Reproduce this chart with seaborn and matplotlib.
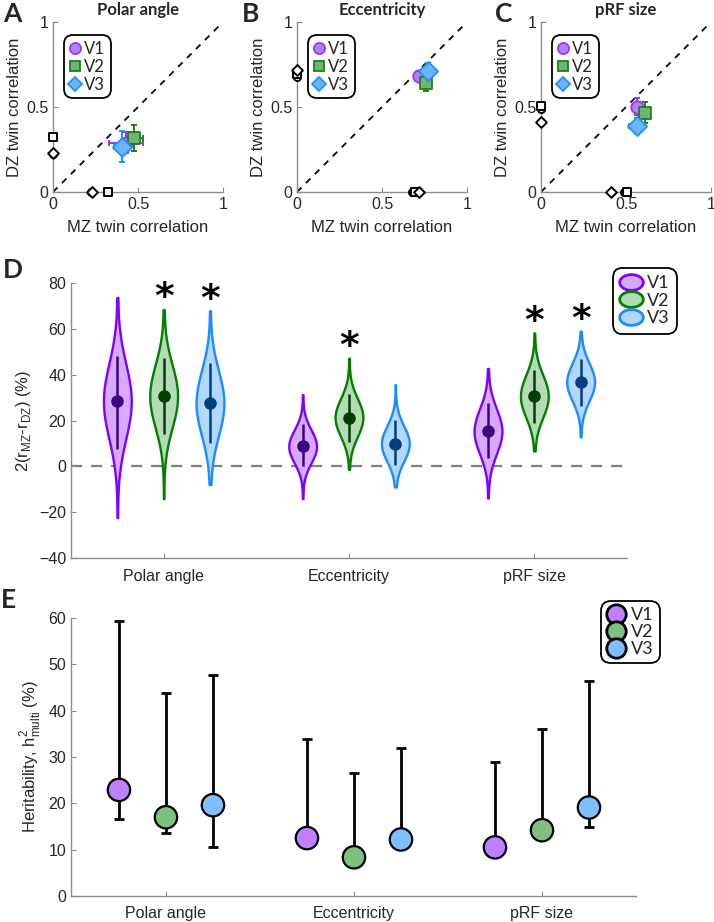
import numpy as np
import pandas as pd
import seaborn as sns
import matplotlib.pyplot as plt
from matplotlib.lines import Line2D
from matplotlib.path import Path
from statistics import NormalDist

# ---------------- data ----------------
areas = ["V1", "V2", "V3"]
maps = ["Polar angle", "Eccentricity", "pRF size"]

# A-C: twin correlations, one row per map, columns V1, V2, V3
mz_r = [[0.43, 0.478, 0.408], [0.72, 0.757, 0.769], [0.563, 0.612, 0.563]]
dz_r = [[0.29, 0.319, 0.266], [0.682, 0.643, 0.714], [0.502, 0.467, 0.388]]
mz_err = [[0.10, 0.05, 0.047], [0.02, 0.02, 0.02], [0.03, 0.03, 0.045]]
dz_err = [[0.06, 0.075, 0.09], [0.02, 0.05, 0.045], [0.05, 0.06, 0.045]]
# open markers drawn on both axes
marg_r = [[0.225, 0.322, 0.232], [0.675, 0.694, 0.718], [0.49, 0.505, 0.41]]

# D: 2(rMZ - rDZ) in %, bootstrap summaries
d_center = [[28.4, 30.6, 27.6], [8.7, 21.3, 9.9], [15.3, 30.6, 36.8]]
d_spread = [[15.5, 13.0, 13.5], [6.8, 7.8, 7.3], [9.3, 8.8, 7.8]]
d_low = [[7.4, 14.0, 10.3], [0.0, 10.6, 0.7], [3.6, 18.9, 26.2]]
d_high = [[48.2, 47.3, 45.3], [18.3, 31.7, 20.1], [27.6, 41.9, 47.0]]
d_min = [[-22.4, -14.1, -8.0], [-14.1, -1.3, -9.0], [-13.8, 6.7, 12.8]]
d_max = [[73.7, 68.4, 67.9], [31.3, 47.2, 35.7], [42.7, 58.2, 59.0]]
d_signif = [[False, True, True], [False, True, False], [False, True, True]]

# E: heritability h2 multi (%), estimate and interval
h_est = [[22.9, 17.0, 19.6], [12.5, 8.35, 12.2], [10.5, 14.2, 19.1]]
h_low = [[16.6, 13.7, 10.6], [11.5, 7.5, 11.0], [9.5, 13.0, 14.9]]
h_high = [[59.4, 43.9, 47.8], [33.9, 26.5, 31.9], [29.0, 36.0, 46.4]]

# ---------------- style ----------------
sc_face = ["#B77FFF", "#6FB56F", "#6CB4FF"]
sc_edge = ["#9933FF", "#1F7F1F", "#1E90FF"]
sc_mark = ["o", "s", "D"]
vio_fill = ["#D6ABFF", "#B5DAB5", "#B3D8FF"]
vio_edge = ["#8000FF", "#007F00", "#1A8CFF"]
vio_dark = ["#3F007F", "#003F00", "#003F7F"]
her_fill = ["#BF7FFF", "#7FBF7F", "#7FBFFF"]

sns.set_theme(style="ticks")
plt.rcParams["font.family"] = ["Liberation Sans", "DejaVu Sans"]
plt.rcParams["axes.edgecolor"] = "#8C8C8C"
plt.rcParams["xtick.color"] = "#8C8C8C"
plt.rcParams["ytick.color"] = "#8C8C8C"
plt.rcParams["xtick.labelcolor"] = "#262626"
plt.rcParams["ytick.labelcolor"] = "#262626"
plt.rcParams["axes.labelcolor"] = "#262626"

W, H = 714, 922
fig = plt.figure(figsize=(W / 100, H / 100), dpi=100)


def box(l, t, r, b):
    return [l / W, 1 - b / H, (r - l) / W, (b - t) / H]


def style_axes(ax):
    sns.despine(ax=ax)
    ax.spines["left"].set_linewidth(1.0)
    ax.spines["bottom"].set_linewidth(1.0)
    ax.tick_params(direction="in", length=3.5, width=0.8, labelsize=11.5)


def round_legend(leg, lw=1.3):
    fr = leg.get_frame()
    fr.set_edgecolor("black")
    fr.set_linewidth(lw)
    fr.set_boxstyle("round,pad=0,rounding_size=0.55")


# ---------------- A-C ----------------
lefts = [53, 297, 541]
titles = maps
letters = ["A", "B", "C"]
letter_x = [3, 242, 495]
for k in range(3):
    ax = fig.add_axes(box(lefts[k], 22, lefts[k] + 170, 192))
    ax.axline((0, 0), slope=1, color="black", lw=1.3, dashes=(3.5, 3.5), zorder=1)
    for j in range(3):
        ax.errorbar(mz_r[k][j], dz_r[k][j], xerr=mz_err[k][j], yerr=dz_err[k][j],
                    fmt="none", ecolor=sc_edge[j], elinewidth=1.4, capsize=2.2,
                    capthick=1.4, zorder=2)
    for j in range(3):
        sz = 95 if sc_mark[j] == "D" else 80
        sns.scatterplot(x=[mz_r[k][j]], y=[dz_r[k][j]], marker=sc_mark[j], s=sz,
                        color=sc_face[j], edgecolor=sc_edge[j], linewidth=1.3,
                        ax=ax, zorder=3 + j, clip_on=False, legend=False)
        ms = 30 if sc_mark[j] == "D" else 26
        sns.scatterplot(x=[marg_r[k][j], 0], y=[0, marg_r[k][j]], marker=sc_mark[j], s=ms,
                        color="white", edgecolor="black", linewidth=1.4,
                        ax=ax, zorder=6, clip_on=False, legend=False)
    ax.set_xlim(0, 1)
    ax.set_ylim(0, 1)
    ax.set_xticks([0, 0.5, 1], ["0", "0.5", "1"])
    ax.set_yticks([0, 0.5, 1], ["0", "0.5", "1"])
    style_axes(ax)
    ax.set_xlabel("MZ twin correlation", fontsize=12, labelpad=6)
    ax.set_ylabel("DZ twin correlation", fontsize=12, labelpad=3)
    ax.set_title(titles[k], fontsize=12, fontweight="bold", pad=5,
                 family=["Lato", "DejaVu Sans"])
    handles = [Line2D([], [], ls="none", marker=sc_mark[j], ms=7 if j else 8,
                      mfc=sc_face[j], mec=sc_edge[j], mew=1.3) for j in range(3)]
    leg = ax.legend(handles, areas, loc="upper left", bbox_to_anchor=(0.065, 0.925),
                    borderaxespad=0, handlelength=0.6, handletextpad=0.25,
                    labelspacing=0.12, borderpad=0.35, frameon=True,
                    framealpha=1, prop={"family": ["Lato", "DejaVu Sans"], "size": 12})
    round_legend(leg)
    fig.text(letter_x[k] / W, 1 - 14 / H, letters[k], fontsize=19, fontweight="bold",
             va="center", ha="left", family=["Lato", "DejaVu Sans"])

# ---------------- D ----------------
axD = fig.add_axes(box(71, 283, 627, 558))


def violin_sample(c, s, lo, hi, n=200):
    nd = NormalDist(c, s)
    q = np.array([nd.inv_cdf((i + 0.5) / n) for i in range(n)])
    return np.concatenate([[lo], np.clip(q, lo, hi), [hi]])


rows = []
for i, m in enumerate(maps):
    for j, a in enumerate(areas):
        vals = violin_sample(d_center[i][j], d_spread[i][j], d_min[i][j], d_max[i][j])
        rows += [(m, a, v) for v in vals]
df_d = pd.DataFrame(rows, columns=["map", "area", "value"])

axD.axhline(0, color="#808080", lw=1.6, dashes=(5, 4), zorder=0)
sns.violinplot(data=df_d, x="map", y="value", hue="area", order=maps, hue_order=areas,
               palette=vio_fill, width=0.75, gap=0.4, cut=0, inner=None,
               density_norm="width", saturation=1, linewidth=1.6, legend=False, ax=axD)
for coll in axD.collections:
    v = coll.get_paths()[0].vertices
    xc = (v[:, 0].min() + v[:, 0].max()) / 2
    j = int(round((xc - round(xc)) / 0.25)) + 1
    coll.set_edgecolor(vio_edge[j])
    coll.set_facecolor(vio_fill[j])
    coll.set_linewidth(1.7)

offs = [-0.25, 0.0, 0.25]
for i in range(3):
    for j in range(3):
        x = i + offs[j]
        axD.vlines(x, d_low[i][j], d_high[i][j], color=vio_dark[j], lw=1.8, zorder=5)
        axD.plot(x, d_center[i][j], "o", ms=8, color=vio_dark[j], zorder=6)
        if d_signif[i][j]:
            axD.text(x, d_max[i][j] + 0.5, "*", ha="center", va="baseline",
                     fontsize=27, fontweight="bold", color="black",
                     family=["DejaVu Sans"])
axD.set_xlim(-0.5, 2.5)
axD.set_ylim(-40, 80)
axD.set_yticks(np.arange(-40, 81, 20))
axD.set_xticks(range(3), maps)
axD.set_xlabel("")
style_axes(axD)
axD.tick_params(axis="x", pad=8)
axD.set_ylabel(r"2(r$_{\mathregular{MZ}}$-r$_{\mathregular{DZ}}$) (%)", fontsize=12, labelpad=4)

ell = np.linspace(0, 2 * np.pi, 80)
ell_path = Path(np.c_[1.5 * np.cos(ell), np.sin(ell)], closed=True)
hD = [Line2D([], [], ls="none", marker=ell_path, ms=17, mfc=vio_fill[j],
             mec=vio_edge[j], mew=2) for j in range(3)]
legD = axD.legend(hD, areas, loc="upper left", bbox_to_anchor=(0.974, 1.056),
                  borderaxespad=0, handlelength=1.2, handletextpad=0.3,
                  labelspacing=0.1, borderpad=0.4, frameon=True, framealpha=1,
                  prop={"family": ["Lato", "DejaVu Sans"], "size": 13})
round_legend(legD)
fig.text(3 / W, 1 - 270 / H, "D", fontsize=19, fontweight="bold", va="center",
         ha="left", family=["Lato", "DejaVu Sans"])

# ---------------- E ----------------
axE = fig.add_axes(box(71, 618, 636, 896))
rows = []
for i, m in enumerate(maps):
    for j, a in enumerate(areas):
        rows.append((m, a, i + offs[j], h_est[i][j], h_low[i][j], h_high[i][j]))
df_e = pd.DataFrame(rows, columns=["map", "area", "xpos", "h", "lo", "hi"])

axE.errorbar(df_e["xpos"], df_e["h"],
             yerr=[df_e["h"] - df_e["lo"], df_e["hi"] - df_e["h"]],
             fmt="none", ecolor="black", elinewidth=2, capsize=3.5, capthick=2, zorder=2)
sns.scatterplot(data=df_e, x="xpos", y="h", hue="area", hue_order=areas, palette=her_fill,
                s=260, edgecolor="black", linewidth=1.6, legend=False, ax=axE, zorder=3)
axE.set_xlim(-0.505, 2.5)
axE.set_ylim(0, 60)
axE.set_yticks(np.arange(0, 61, 10))
axE.set_xticks(range(3), maps)
axE.set_xlabel("")
style_axes(axE)
axE.tick_params(axis="x", pad=7)
axE.set_ylabel(r"Heritability, h$^{\mathregular{2}}_{\mathregular{multi}}$ (%)",
               fontsize=12, labelpad=4)

hE = [Line2D([], [], ls="none", marker="o", ms=14, mfc=her_fill[j], mec="black", mew=2)
      for j in range(3)]
legE = axE.legend(hE, areas, loc="upper left", bbox_to_anchor=(0.938, 1.061),
                  borderaxespad=0, handlelength=1.0, handletextpad=0.3,
                  labelspacing=0.05, borderpad=0.35, frameon=True, framealpha=1,
                  prop={"family": ["Lato", "DejaVu Sans"], "size": 13})
round_legend(legE)
fig.text(1 / W, 1 - 600 / H, "E", fontsize=19, fontweight="bold", va="center",
         ha="left", family=["Lato", "DejaVu Sans"])

fig.savefig("out.png", dpi=100)
